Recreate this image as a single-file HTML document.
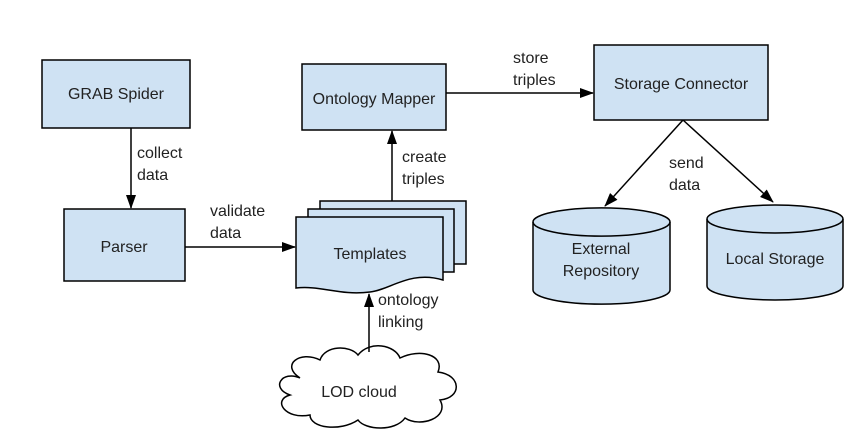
<!DOCTYPE html>
<html><head><style>body{margin:0;background:#fff}svg{display:block}text{font-family:"Liberation Sans",Arial,sans-serif;font-size:16px;fill:#222}</style></head>
<body>
<svg width="852" height="442" viewBox="0 0 852 442">
<defs><marker id="a" markerWidth="14" markerHeight="10" refX="13" refY="5" orient="auto" markerUnits="userSpaceOnUse"><path d="M0,0 L14,5 L0,10 z" fill="#000"/></marker></defs>
<g fill="#cfe2f3" stroke="#000" stroke-width="1.5">
<rect x="42" y="60" width="148" height="68"/>
<rect x="64" y="209" width="121" height="72"/>
<rect x="302" y="64" width="144" height="66"/>
<rect x="594" y="45" width="174" height="75"/>
<path d="M320,201 H466 V264 H320 z"/>
<path d="M308,209 H454 V272 H308 z"/>
<path d="M296,217 H443 V280 C410,270 390,290 370,292 C340,296 320,285 296,288 z"/>
<path d="M533,222 A68,14 0 0 1 670,222 V290 A68,14 0 0 1 533,290 z"/>
<path d="M533,222 A68,14 0 0 0 670,222" fill="none"/>
<path d="M707,219 A68,14 0 0 1 843,219 V286 A68,14 0 0 1 707,286 z"/>
<path d="M707,219 A68,14 0 0 0 843,219" fill="none"/>
<path d="M300,378 C280,365 300,350 320,360 C325,345 350,345 358,355 C370,340 395,345 400,358 C420,348 445,355 438,372 C462,375 462,398 440,400 C450,418 420,428 405,418 C395,432 365,430 358,420 C340,432 310,428 310,415 C285,420 272,400 290,395 C270,388 282,370 300,378 z" fill="#fff"/>
</g>
<g stroke="#000" stroke-width="1.5" fill="none" marker-end="url(#a)">
<line x1="131" y1="128" x2="131" y2="208"/>
<line x1="185" y1="247" x2="295" y2="247"/>
<line x1="392" y1="201" x2="392" y2="131"/>
<line x1="446" y1="93" x2="593" y2="93"/>
<line x1="683" y1="120" x2="605" y2="206"/>
<line x1="683" y1="120" x2="773" y2="202"/>
<line x1="369" y1="352" x2="369" y2="294"/>
</g>
<g text-anchor="middle">
<text x="116" y="99">GRAB Spider</text>
<text x="124" y="252">Parser</text>
<text x="374" y="104">Ontology Mapper</text>
<text x="681" y="89">Storage Connector</text>
<text x="370" y="259">Templates</text>
<text x="601" y="254">External</text>
<text x="601" y="276">Repository</text>
<text x="775" y="264">Local Storage</text>
<text x="359" y="397">LOD cloud</text>
</g>
<text x="137" y="158">collect</text><text x="137" y="180">data</text>
<text x="210" y="216">validate</text><text x="210" y="238">data</text>
<text x="402" y="162">create</text><text x="402" y="184">triples</text>
<text x="513" y="63">store</text><text x="513" y="85">triples</text>
<text x="669" y="168">send</text><text x="669" y="190">data</text>
<text x="378" y="305">ontology</text><text x="378" y="327">linking</text>
</svg>
</body></html>
